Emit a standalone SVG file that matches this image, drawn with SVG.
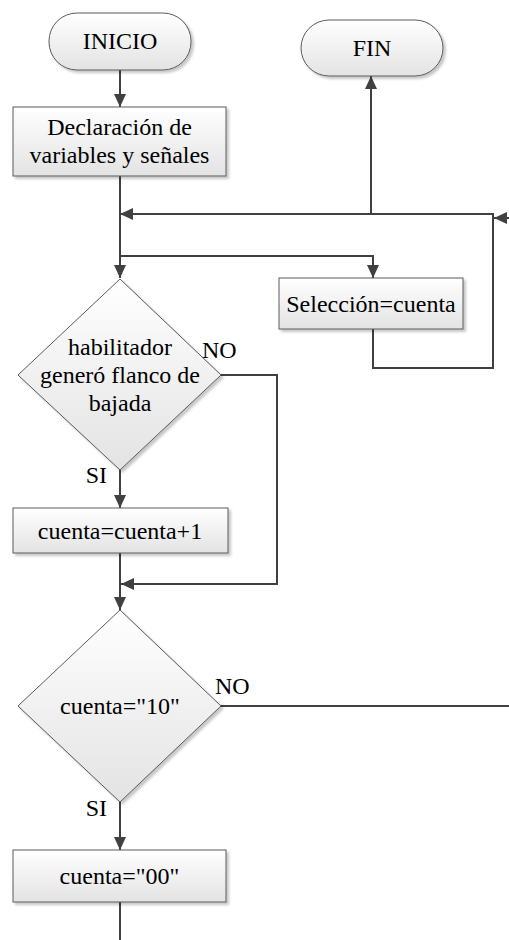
<svg xmlns="http://www.w3.org/2000/svg" width="509" height="940" viewBox="0 0 509 940">
  <defs>
    <linearGradient id="fillGrad" x1="0" y1="0" x2="0" y2="1">
      <stop offset="0" stop-color="#ffffff"/>
      <stop offset="1" stop-color="#e3e3e3"/>
    </linearGradient>
    <filter id="shadow" x="-10%" y="-10%" width="125%" height="125%">
      <feDropShadow dx="2.5" dy="2.5" stdDeviation="1" flood-color="#000000" flood-opacity="0.22"/>
    </filter>
    <marker id="arrow" markerUnits="userSpaceOnUse" markerWidth="14" markerHeight="12" refX="13" refY="6" orient="auto">
      <path d="M0,0 L13,6 L0,12 z" fill="#404040"/>
    </marker>
    <style>
      .shape { fill: url(#fillGrad); stroke: #5a5a5a; stroke-width: 1; filter: url(#shadow); }
      .conn { fill: none; stroke: #404040; stroke-width: 2; }
      .arr { marker-end: url(#arrow); }
      .lbl { font-family: "Liberation Serif", "Times New Roman", "DejaVu Serif", serif; font-size: 24px; fill: #000000; }
      .c { text-anchor: middle; }
    </style>
  </defs>

  <!-- connectors -->
  <g id="connectors">
    <path class="conn arr" d="M120,70 L120,107"/>
    <path class="conn arr" d="M120,176 L120,278"/>
    <path class="conn arr" d="M120,256 L373,256 L373,278"/>
    <path class="conn arr" d="M373,329 L373,368 L493,368 L493,214 L120,214"/>
    <path class="conn arr" d="M371,214 L371,76"/>
    <path class="conn arr" d="M509,218 L494,218"/>
    <path class="conn arr" d="M220,375 L277,375 L277,584 L121,584"/>
    <path class="conn arr" d="M120,470 L120,508"/>
    <path class="conn arr" d="M120,553 L120,610"/>
    <path class="conn" d="M220,706 L509,706"/>
    <path class="conn arr" d="M120,802 L120,850"/>
    <path class="conn" d="M120,902 L120,940"/>
  </g>

  <!-- nodes -->
  <g id="inicio">
    <rect class="shape" x="49" y="13" width="142" height="57" rx="28" ry="28"/>
    <text class="lbl c" x="120" y="49">INICIO</text>
  </g>

  <g id="fin">
    <rect class="shape" x="301" y="20" width="142" height="56" rx="28" ry="28"/>
    <text class="lbl c" x="372" y="56">FIN</text>
  </g>

  <g id="declaracion">
    <rect class="shape" x="13" y="107" width="213" height="69"/>
    <text class="lbl c" x="119.5" y="135">Declaración de</text>
    <text class="lbl c" x="119.5" y="163">variables y señales</text>
  </g>

  <g id="seleccion">
    <rect class="shape" x="279" y="278" width="184" height="51"/>
    <text class="lbl c" x="371" y="312">Selección=cuenta</text>
  </g>

  <g id="decision-flanco">
    <polygon class="shape" points="120,279 221,375 120,470 18,375"/>
    <text class="lbl c" x="120" y="355">habilitador</text>
    <text class="lbl c" x="120" y="383">generó flanco de</text>
    <text class="lbl c" x="120" y="411">bajada</text>
    <text class="lbl" x="202" y="358">NO</text>
    <text class="lbl" x="107" y="483" text-anchor="end">SI</text>
  </g>

  <g id="incremento">
    <rect class="shape" x="13" y="508" width="215" height="45"/>
    <text class="lbl c" x="120" y="539">cuenta=cuenta+1</text>
  </g>

  <g id="decision-diez">
    <polygon class="shape" points="120,610 221,706 120,802 18,706"/>
    <text class="lbl c" x="120" y="714">cuenta="10"</text>
    <text class="lbl" x="215" y="694">NO</text>
    <text class="lbl" x="107" y="816" text-anchor="end">SI</text>
  </g>

  <g id="reinicio">
    <rect class="shape" x="13" y="850" width="213" height="52"/>
    <text class="lbl c" x="119.5" y="884">cuenta="00"</text>
  </g>
</svg>
